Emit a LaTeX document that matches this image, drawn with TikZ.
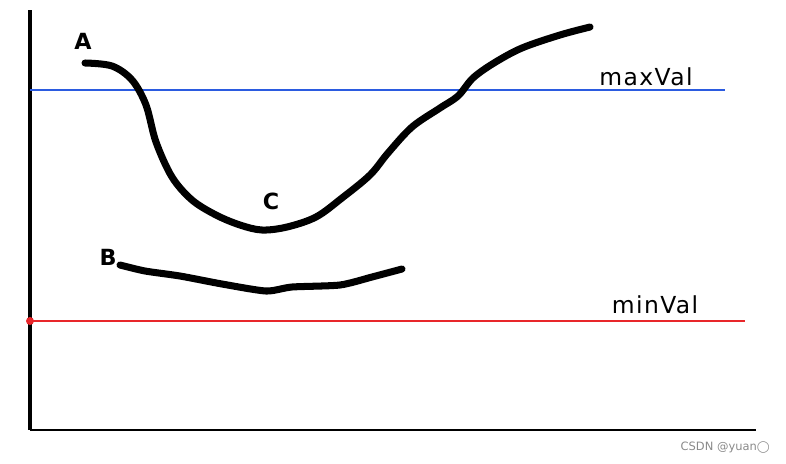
\documentclass[tikz,border=0pt]{standalone}
\usepackage{fontspec}
\setmainfont{DejaVu Sans}
\newfontfamily\valfont[LetterSpace=6]{DejaVu Sans}
\usetikzlibrary{positioning}
\definecolor{maxblue}{HTML}{2B5BE0}
\definecolor{minred}{HTML}{E8262A}
\definecolor{wmgray}{HTML}{8A8A8A}

\begin{document}
\begin{tikzpicture}[
    x=0.03cm, y=-0.03cm,
    axis/.style={draw=black, line width=2.6pt},
    base/.style={draw=black, line width=1.1pt},
    maxline/.style={draw=maxblue, line width=1.4pt},
    minline/.style={draw=minred, line width=2.2pt},
    stroke/.style={draw=black, line width=6pt, line cap=round, line join=round},
    lbl/.style={font=\valfont\fontsize{20}{22}\selectfont, inner sep=0pt, anchor=base},
    tag/.style={font=\fontsize{19}{22}\selectfont\bfseries, inner sep=0pt},
  ]
    \useasboundingbox (0,0) rectangle (786,463);

    % axes
    \coordinate (top) at (30,10);
    \coordinate (org) at (30,430);
    \coordinate (xend) at (756,430);
    \draw[axis] (top) -- (org);
    \draw[base] (org) -- (xend);

    % thresholds
    \coordinate (maxl) at (30,90);
    \coordinate (maxr) at (725,90);
    \coordinate (minl) at (30,321);
    \coordinate (minr) at (745,321);
    \draw[maxline] (maxl) -- (maxr);
    \draw[minline] (minl) -- (minr);
    \fill[minred] (minl) circle (4);

    \node[lbl] (maxv) at (646,85) {maxVal};
    \node[lbl] (minv) at (655,313) {minVal};

    % curves
    \draw[stroke] plot[smooth, tension=0.55] coordinates {
      (85,63) (112,66) (132,80) (146,105) (156,142) (172,177) (192,200)
      (216,215) (240,225) (262,230) (287,227) (316,217) (342,198)
      (370,175) (388,153) (412,127) (440,108) (458,96) (473,78)
      (494,63) (522,48) (560,35) (590,27)};
    \draw[stroke] plot[smooth, tension=0.4] coordinates {
      (120,265) (145,271) (180,276) (222,284) (266,291) (292,287)
      (340,285) (372,277) (402,269)};

    \node[tag] (ptA) at (83,41) {A};
    \node[tag] (ptC) at (271,201) {C};
    \node[tag] (ptB) at (108,257) {B};

    \node[font=\fontsize{9.8}{11}\selectfont, text=wmgray, anchor=east, inner sep=0pt]
      (wm) at (770,448) {CSDN @yuan◯};
  \end{tikzpicture}
\end{document}
